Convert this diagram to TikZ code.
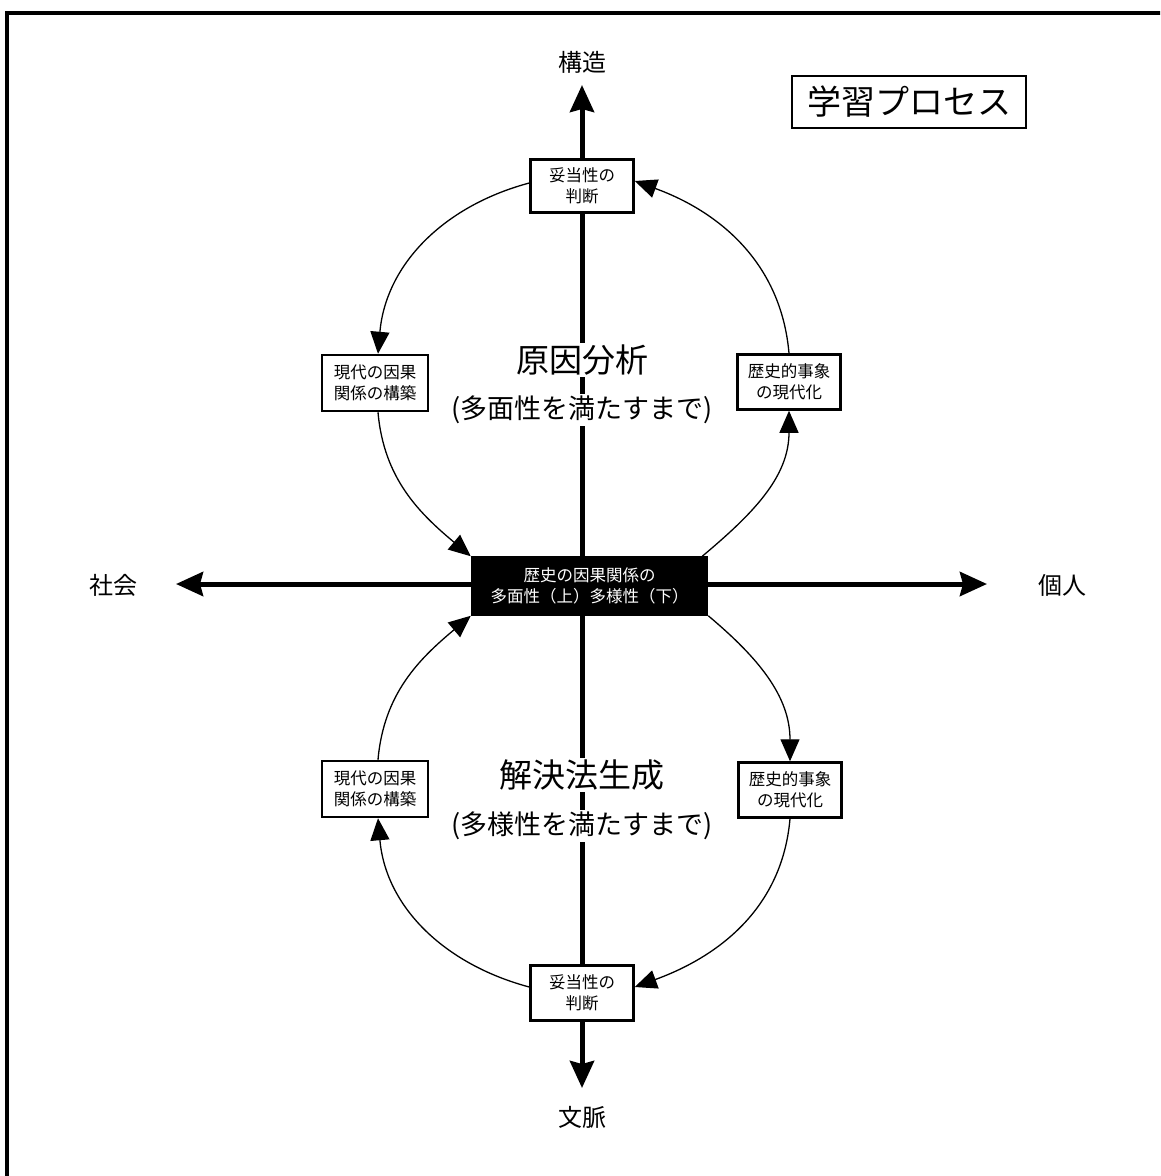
\documentclass[tikz,border=0pt]{standalone}
\usepackage{fontspec}
\setmainfont{Noto Sans CJK JP}
\usetikzlibrary{arrows.meta}
\begin{document}
\begin{tikzpicture}[x=1pt,y=1pt,
  box/.style={draw, line width=2.5pt, fill=white, align=center, font=\fontsize{16.5}{21}\selectfont, inner sep=0pt},
  axis/.style={line width=5pt, -{Stealth[length=27pt,width=24pt,inset=3pt]}},
  loopar/.style={line width=1.3pt, -{Triangle[length=22pt,width=19pt]}},
  axlab/.style={font=\fontsize{24}{28}\selectfont},
  biglab/.style={fill=white, inner sep=2pt, font=\fontsize{33}{38}\selectfont},
  sublab/.style={fill=white, inner sep=2pt, font=\fontsize{27}{32}\selectfont}]
\useasboundingbox (0,0) rectangle (1160,-1176);
\clip (0,0) rectangle (1160,-1176);
\draw[line width=4pt] (7,-1200) -- (7,-13) -- (1200,-13);
% axes
\coordinate (o) at (582,-584);
\coordinate (top) at (582,-85);
\coordinate (bot) at (582,-1088);
\coordinate (lft) at (176,-584);
\coordinate (rgt) at (987,-584);
\draw[axis] (o) -- (top);
\draw[axis] (o) -- (bot);
\draw[axis] (o) -- (lft);
\draw[axis] (o) -- (rgt);
\node[axlab] (lstr) at (582,-62) {構造};
\node[axlab] (lctx) at (582,-1117) {文脈};
\node[axlab] (lsoc) at (113,-585) {社会};
\node[axlab] (lind) at (1062,-585) {個人};
% title
\node[draw, line width=2.5pt, minimum width=234pt, minimum height=52pt, inner sep=0pt, font=\fontsize{34}{40}\selectfont] (title) at (909,-102) {学習プロセス};
% boxes
\node[box, minimum width=103pt, minimum height=53pt] (tb) at (582,-186) {妥当性の\\判断};
\node[box, minimum width=106pt, minimum height=56pt] (lt) at (375,-383) {現代の因果\\関係の構築};
\node[box, minimum width=103pt, minimum height=55pt] (rt) at (789,-382) {歴史的事象\\の現代化};
\node[box, fill=black, text=white, minimum width=235pt, minimum height=57pt] (cen) at (589.5,-586) {歴史の因果関係の\\多面性（上）多様性（下）};
\node[box, minimum width=106pt, minimum height=56pt] (lb) at (375,-789) {現代の因果\\関係の構築};
\node[box, minimum width=103pt, minimum height=55pt] (rb) at (790,-790) {歴史的事象\\の現代化};
\node[box, minimum width=103pt, minimum height=55pt] (bb) at (582,-993) {妥当性の\\判断};
% central labels
\node[biglab] (cause) at (582,-360) {原因分析};
\node[sublab] (causesub) at (582,-410) {(多面性を満たすまで)};
\node[biglab] (sol) at (582,-775) {解決法生成};
\node[sublab] (solsub) at (582,-826) {(多様性を満たすまで)};
% upper loop
\draw[loopar] ([yshift=3pt]tb.west) to[out=195, in=85] ([xshift=3pt]lt.north);
\draw[loopar] ([xshift=3pt]lt.south) to[out=-85, in=140] (cen.north west);
\draw[loopar] ([xshift=-6pt]cen.north east) to[out=40, in=-90] (rt.south);
\draw[loopar] (rt.north) to[out=95, in=-20] ([yshift=5pt]tb.east);
% lower loop
\draw[loopar] ([yshift=6pt]bb.west) to[out=165, in=-85] ([xshift=3pt]lb.south);
\draw[loopar] ([xshift=3pt]lb.north) to[out=85, in=220] (cen.south west);
\draw[loopar] (cen.south east) to[out=-40, in=90] (rb.north);
\draw[loopar] (rb.south) to[out=-95, in=20] ([yshift=6pt]bb.east);
\end{tikzpicture}
\end{document}
